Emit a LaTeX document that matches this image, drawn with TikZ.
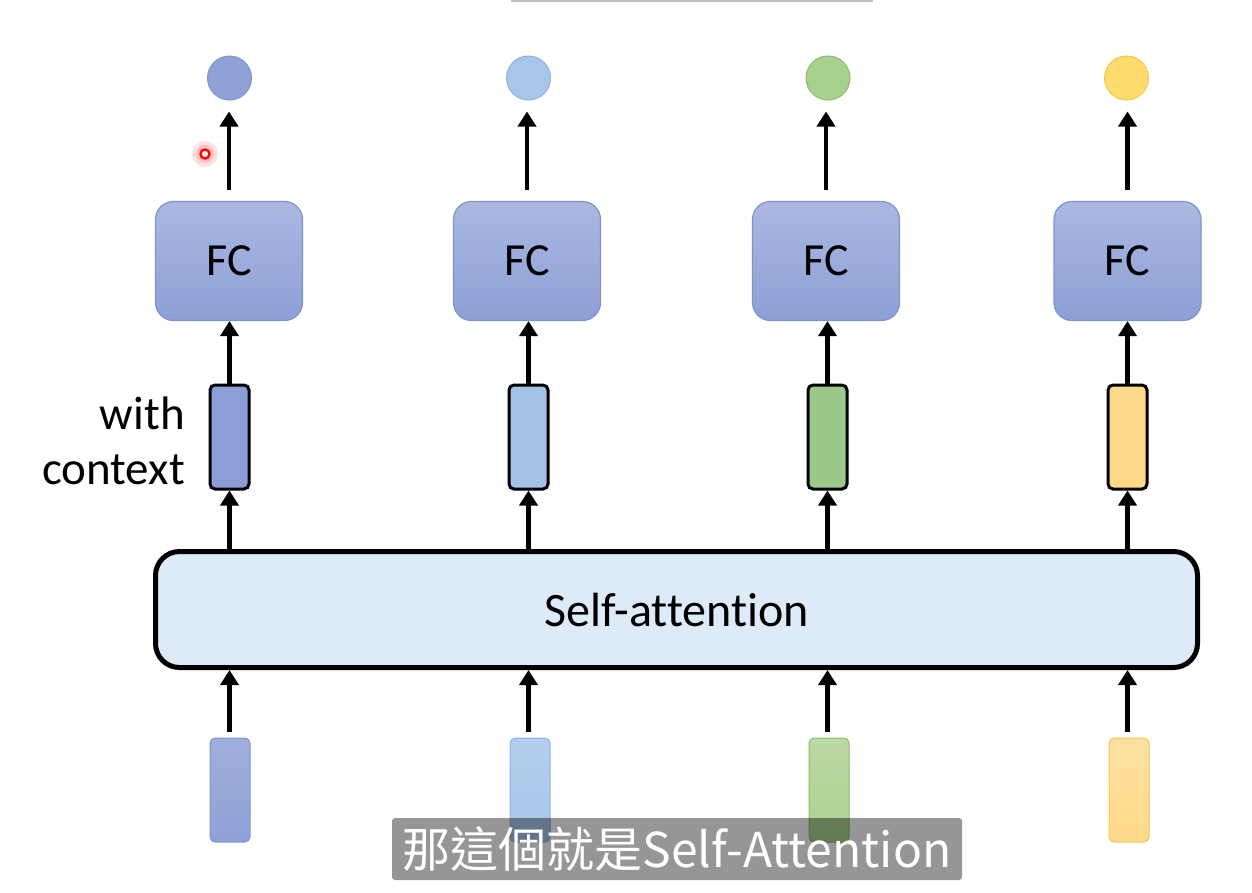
\documentclass[tikz,border=0pt]{standalone}
\usepackage{fontspec}
\setmainfont{Carlito}[Ligatures=NoCommon]
\newfontfamily\cjk{Noto Sans CJK TC}
\usetikzlibrary{arrows.meta}
\definecolor{fcTop}{HTML}{AAB8E1}
\definecolor{fcBot}{HTML}{8D9FD6}
\definecolor{fcLine}{HTML}{7F93CD}
\definecolor{cBlue}{HTML}{8C9ED6}
\definecolor{cLBlue}{HTML}{A3C3E6}
\definecolor{cGreen}{HTML}{9CC98A}
\definecolor{cYellow}{HTML}{FFD98A}
\definecolor{oBlue}{HTML}{8FA1D6}
\definecolor{oBlueL}{HTML}{7F93CC}
\definecolor{oLBlue}{HTML}{A6C6EA}
\definecolor{oLBlueL}{HTML}{8DB3E0}
\definecolor{oGreen}{HTML}{A9D18E}
\definecolor{oGreenL}{HTML}{8DBA70}
\definecolor{oYellow}{HTML}{FFDA6E}
\definecolor{oYellowL}{HTML}{F2C84B}
\definecolor{saFill}{HTML}{DDEAF7}
\begin{document}
\begin{tikzpicture}[x=1pt,y=-1pt,
  arr/.style={line width=4.4pt,-{Triangle[width=18pt,length=15pt]}},
  fcbox/.style={draw=fcLine,line width=1.2pt,rounded corners=18pt,top color=fcTop,bottom color=fcBot,
    minimum width=147pt,minimum height=119pt,inner sep=0pt,font=\fontsize{46}{50}\selectfont},
  ctxvec/.style={draw=black,line width=3pt,rounded corners=5pt,minimum width=39pt,minimum height=104pt,inner sep=0pt},
  invec/.style={line width=1pt,rounded corners=5pt,minimum width=40pt,minimum height=104pt,inner sep=0pt},
  outdot/.style={circle,line width=1pt,minimum size=44pt,inner sep=0pt},
  lbl/.style={font=\fontsize{47}{50}\selectfont,inner sep=0pt}
]
\useasboundingbox (0,0) rectangle (1252,892);
\fill[white] (0,0) rectangle (1252,892);
% top line
\draw[black!25,line width=1.5pt] (511,0.8) -- (873,0.8);

% output circles
\node[outdot,draw=oBlueL,fill=oBlue] (o1) at (229.5,78) {};
\node[outdot,draw=oLBlueL,fill=oLBlue] (o2) at (528.5,78) {};
\node[outdot,draw=oGreenL,fill=oGreen] (o3) at (828,78) {};
\node[outdot,draw=oYellowL,fill=oYellow] (o4) at (1126.5,78) {};

% FC boxes
\node[fcbox] (f1) at (229,261) {FC};
\node[fcbox] (f2) at (527,261) {FC};
\node[fcbox] (f3) at (826,261) {FC};
\node[fcbox] (f4) at (1127.5,261) {FC};

% context vectors
\node[ctxvec,fill=cBlue] (c1) at (229.5,437) {};
\node[ctxvec,fill=cLBlue] (c2) at (528.5,437) {};
\node[ctxvec,fill=cGreen] (c3) at (827.5,437) {};
\node[ctxvec,fill=cYellow] (c4) at (1127.5,437) {};

\node[lbl,anchor=east] (w1) at (185,413) {with};
\node[lbl,anchor=east] (w2) at (185,470) {context};

% self-attention
\node[draw=black,line width=5pt,rounded corners=24pt,fill=saFill,minimum width=1042pt,minimum height=116pt,
  inner sep=0pt,font=\fontsize{48}{52}\selectfont] (sa) at (676.5,609.5) {Self-attention};

% input vectors
\node[invec,draw=oBlueL,top color=oBlue!85!white,bottom color=oBlue] (i1) at (230,790) {};
\node[invec,draw=oLBlueL,top color=oLBlue!85!white,bottom color=oLBlue] (i2) at (530,790) {};
\node[invec,draw=oGreenL,top color=oGreen!80!white,bottom color=oGreen] (i3) at (829,790) {};
\node[invec,draw=oYellowL,top color=cYellow!80!white,bottom color=cYellow] (i4) at (1129,790) {};

% arrows
\foreach \k in {1,2,3,4}{
  \draw[arr,shorten <=11pt,shorten >=11pt] (f\k.north) -- (f\k.north |- o\k.south);
  \draw[arr] (c\k.north) -- (c\k.north |- f\k.south);
  \draw[arr] (sa.north -| c\k.south) -- (c\k.south);
  \draw[arr,shorten <=6pt] (i\k.north -| c\k.south) -- (sa.south -| c\k.south);
}

% laser pointer
\fill[red,opacity=0.12] (205,154) circle (13pt);
\fill[red,opacity=0.15] (205,154) circle (9pt);
\draw[red,line width=2.4pt,fill=white] (205,154) circle (4.5pt);

% subtitle
\node[fill=black,fill opacity=0.41,text opacity=1,text=white,rounded corners=3pt,
  minimum width=570pt,minimum height=62pt,inner sep=0pt,
  font=\cjk\fontsize{48}{52}\selectfont] (sub) at (677,849) {那這個就是Self-Attention};
\end{tikzpicture}
\end{document}
